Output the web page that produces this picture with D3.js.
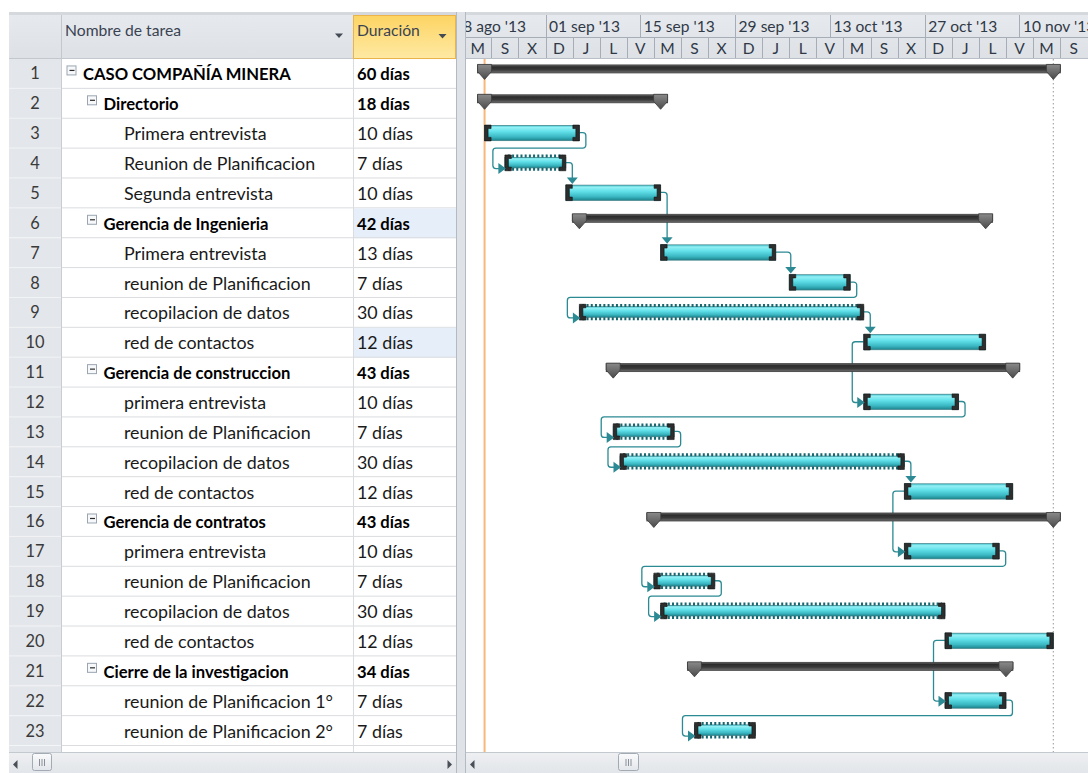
<!DOCTYPE html>
<html>
<head>
<meta charset="utf-8">
<script src="https://cdn.jsdelivr.net/npm/d3@7"></script>
<style>
  html, body { margin: 0; padding: 0; background: #ffffff; }
  svg { display: block; font-family: Lato, "Noto Sans", sans-serif; }
</style>
</head>
<body>
<svg id="chart" width="1088" height="773"></svg>
<script>
// ---- Datos del proyecto ----
const tareas = [
  "CASO COMPAÑÍA MINERA", "Directorio", "Primera entrevista", "Reunion de Planificacion",
  "Segunda entrevista", "Gerencia de Ingenieria", "Primera entrevista", "reunion de Planificacion",
  "recopilacion de datos", "red de contactos", "Gerencia de construccion", "primera entrevista",
  "reunion de Planificacion", "recopilacion de datos", "red de contactos", "Gerencia de contratos",
  "primera entrevista", "reunion de Planificacion", "recopilacion de datos", "red de contactos",
  "Cierre de la investigacion", "reunion de Planificacion 1°", "reunion de Planificacion 2°"
];
const duraciones = [60, 18, 10, 7, 10, 42, 13, 7, 30, 12, 43, 10, 7, 30, 12, 43, 10, 7, 30, 12, 34, 7, 7];
const niveles = [0, 1, 2, 2, 2, 1, 2, 2, 2, 2, 1, 2, 2, 2, 2, 1, 2, 2, 2, 2, 1, 2, 2];
const comienzos = [
  "2013-08-23", "2013-08-23", "2013-08-23", "2013-08-26", "2013-09-04", "2013-09-06",
  "2013-09-18", "2013-10-07", "2013-09-06", "2013-10-18", "2013-09-11", "2013-10-18",
  "2013-09-11", "2013-09-12", "2013-10-24", "2013-09-17", "2013-10-24", "2013-09-17",
  "2013-09-18", "2013-10-30", "2013-09-23", "2013-10-30", "2013-09-23"
];
const fines = [
  "2013-11-14", "2013-09-17", "2013-09-05", "2013-09-03", "2013-09-17", "2013-11-04",
  "2013-10-04", "2013-10-15", "2013-10-17", "2013-11-04", "2013-11-08", "2013-10-31",
  "2013-09-19", "2013-10-23", "2013-11-08", "2013-11-14", "2013-11-06", "2013-09-25",
  "2013-10-29", "2013-11-14", "2013-11-07", "2013-11-07", "2013-10-01"
];
// [predecesora, sucesora, tipo]  FC = fin-comienzo, CC = comienzo-comienzo
const vinculos = [
  [3, 4, "FC"], [4, 5, "FC"], [5, 7, "FC"], [7, 8, "FC"], [8, 9, "FC"], [9, 10, "FC"],
  [10, 12, "CC"], [12, 13, "FC"], [13, 14, "FC"], [14, 15, "FC"], [15, 17, "CC"],
  [17, 18, "FC"], [18, 19, "FC"], [20, 22, "CC"], [22, 23, "FC"]
];
const tareasPunteadas = [4, 9, 13, 14, 18, 19, 23];
const celdasSeleccionadas = [6, 10];
const fechaInicioProyecto = "2013-08-23";
const fechaFinProyecto = "2013-11-15";

// Escala temporal: nivel superior (semanas de 2) e inferior (cada 4 días)
const inicioNivelSuperior = "2013-08-18";
const etiquetasSuperiores = ["18 ago '13", "01 sep '13", "15 sep '13", "29 sep '13", "13 oct '13", "27 oct '13", "10 nov '13"];
const inicioNivelInferior = "2013-08-20";
const etiquetasInferiores = ["M", "S", "X", "D", "J", "L", "V", "M", "S", "X", "D", "J", "L", "V", "M", "S", "X", "D", "J", "L", "V", "M", "S"];

// ---- Dibujo ----
const svg = d3.select("#chart");
const W = 1088, H = 773;
const parse = d3.utcParse("%Y-%m-%d");
const dia = d3.utcDay;

// Geometría general de la vista
const yTop = 15, yTier = 37, yHead = 59, rowH = 29.87, yScroll = 752;
const colNum0 = 9, colNum1 = 61, colNom1 = 353, colDur1 = 456, ganttX0 = 466;

const x = d3.scaleUtc()
  .domain([parse("2013-08-20"), parse("2013-11-20")])
  .range([464.25, 1087.2]);
const fila = d3.scaleLinear().domain([0, 1]).range([yHead, yHead + rowH]);
const centro = i => fila(i + 0.5);

const defs = svg.append("defs");
function grad(id, stops) {
  const g = defs.append("linearGradient").attr("id", id).attr("x1", 0).attr("x2", 0).attr("y1", 0).attr("y2", 1);
  stops.forEach(([o, c]) => g.append("stop").attr("offset", o).attr("stop-color", c));
}
grad("gTarea", [[0, "#45c7d1"], [0.14, "#93eff4"], [0.4, "#62e1ea"], [0.75, "#3bb8c3"], [1, "#1c838c"]]);
grad("gResumen", [[0, "#6c6c6c"], [0.25, "#2c2c2c"], [0.6, "#3a3a3a"], [1, "#707070"]]);
grad("gTapa", [[0, "#8a8a8a"], [1, "#4a4a4a"]]);
grad("gCabecera", [[0, "#e6e9ed"], [1, "#dde1e6"]]);
grad("gDuracion", [[0, "#fdd463"], [1, "#fee9a3"]]);
grad("gBarra", [[0, "#eef0f2"], [1, "#e2e5e9"]]);
grad("gPulgar", [[0, "#fbfbfc"], [1, "#e3e6ea"]]);

defs.append("clipPath").attr("id", "clipGantt")
  .append("rect").attr("x", ganttX0).attr("y", yTop).attr("width", W - ganttX0).attr("height", yScroll - yTop);
defs.append("clipPath").attr("id", "clipTabla")
  .append("rect").attr("x", 0).attr("y", yHead).attr("width", colDur1).attr("height", yScroll - yHead);

// tamaños de letra ajustados al ancho de los textos de la vista
function ajustar(texto, ancho, peso) {
  const t = svg.append("text").attr("font-size", 100).attr("font-weight", peso).text(texto);
  const w = t.node().getComputedTextLength();
  t.remove();
  return 100 * ancho / w;
}
const fsNegrita = ajustar("CASO COMPAÑÍA MINERA", 208, 700);
const fsNormal = ajustar("reunion de Planificacion 2°", 209, 400);
const fsCabecera = ajustar("Nombre de tarea", 116, 400);
const fsEscala = ajustar("01 sep '13", 71, 400);

svg.append("rect").attr("width", W).attr("height", H).attr("fill", "#ffffff");
svg.append("rect").attr("x", colNum0).attr("y", 12).attr("width", W - colNum0).attr("height", 3).attr("fill", "#d5d8dd");

// ---- Tabla ----
const tabla = svg.append("g");
const cuerpoTabla = tabla.append("g").attr("clip-path", "url(#clipTabla)");
const nFilas = tareas.length + 1;
for (let i = 0; i < nFilas; i++) {
  const y0 = fila(i);
  cuerpoTabla.append("rect").attr("x", colNum0).attr("y", y0).attr("width", colNum1 - colNum0).attr("height", rowH).attr("fill", "#e3e6ea");
  if (celdasSeleccionadas.includes(i + 1)) {
    cuerpoTabla.append("rect").attr("x", colNom1).attr("y", y0).attr("width", colDur1 - colNom1).attr("height", rowH).attr("fill", "#e6eef9");
  }
  cuerpoTabla.append("line").attr("x1", colNum0).attr("x2", colNum1).attr("y1", y0 + rowH - 0.5).attr("y2", y0 + rowH - 0.5).attr("stroke", "#f4f5f7");
  cuerpoTabla.append("line").attr("x1", colNum1).attr("x2", colDur1).attr("y1", y0 + rowH - 0.5).attr("y2", y0 + rowH - 0.5).attr("stroke", "#dadcdf");
}
cuerpoTabla.append("line").attr("x1", colNum1 + 0.5).attr("x2", colNum1 + 0.5).attr("y1", yHead).attr("y2", yScroll).attr("stroke", "#c9cdd3");
cuerpoTabla.append("line").attr("x1", colNom1 + 0.5).attr("x2", colNom1 + 0.5).attr("y1", yHead).attr("y2", yScroll).attr("stroke", "#dadcdf");

tareas.forEach((nombre, i) => {
  const c = centro(i);
  const nivel = niveles[i];
  const resumen = nivel < 2;
  cuerpoTabla.append("text").attr("x", 35).attr("y", c + 5.5).attr("text-anchor", "middle")
    .attr("font-size", fsNormal * 0.92).attr("fill", "#3a3a3a").text(i + 1);
  const xt = 83 + nivel * 20.5;
  if (resumen) {
    const bx = xt - 16.5, by = c - 8.5;
    cuerpoTabla.append("rect").attr("x", bx + 0.5).attr("y", by + 0.5).attr("width", 9).attr("height", 9)
      .attr("fill", "#f7f8fa").attr("stroke", "#9aa5b1").attr("stroke-width", 1);
    cuerpoTabla.append("line").attr("x1", bx + 3).attr("x2", bx + 8).attr("y1", by + 5).attr("y2", by + 5)
      .attr("stroke", "#2c2c2c").attr("stroke-width", 1.2);
  }
  cuerpoTabla.append("text").attr("x", xt).attr("y", c + 6.5)
    .attr("font-size", resumen ? fsNegrita : fsNormal).attr("font-weight", resumen ? 700 : 400)
    .attr("fill", resumen ? "#000000" : "#1a1a1a").text(nombre);
  cuerpoTabla.append("text").attr("x", 357).attr("y", c + 6.5)
    .attr("font-size", resumen ? fsNegrita : fsNormal).attr("font-weight", resumen ? 700 : 400)
    .attr("fill", resumen ? "#000000" : "#1a1a1a").text(duraciones[i] + " días");
});

// Cabecera de la tabla
tabla.append("rect").attr("x", colNum0).attr("y", yTop).attr("width", colNom1 - colNum0).attr("height", yHead - yTop).attr("fill", "url(#gCabecera)");
tabla.append("rect").attr("x", colNom1 + 0.5).attr("y", yTop + 0.5).attr("width", colDur1 - colNom1 - 1).attr("height", yHead - yTop - 1)
  .attr("fill", "url(#gDuracion)").attr("stroke", "#eab44a");
tabla.append("line").attr("x1", colNum1 + 0.5).attr("x2", colNum1 + 0.5).attr("y1", yTop).attr("y2", yHead).attr("stroke", "#c3c8cf");
tabla.append("line").attr("x1", colNum0).attr("x2", colNom1).attr("y1", yHead - 0.5).attr("y2", yHead - 0.5).attr("stroke", "#c3c8cf");
tabla.append("text").attr("x", 65).attr("y", 36).attr("font-size", fsCabecera).attr("fill", "#3a4352").text("Nombre de tarea");
tabla.append("text").attr("x", 357).attr("y", 36).attr("font-size", fsCabecera).attr("fill", "#3a4352").text("Duración");
[[339, 35.5], [442.5, 36]].forEach(([ax, ay]) => {
  tabla.append("path").attr("d", `M${ax - 4},${ay - 2}L${ax + 4},${ay - 2}L${ax},${ay + 2.5}Z`).attr("fill", "#444b55");
});

// Separador entre tabla y diagrama
svg.append("rect").attr("x", colDur1).attr("y", yTop - 3).attr("width", ganttX0 - colDur1).attr("height", H - yTop + 3).attr("fill", "#dfe2e7");
svg.append("line").attr("x1", colDur1 + 0.5).attr("x2", colDur1 + 0.5).attr("y1", yTop - 3).attr("y2", H).attr("stroke", "#b4bac2");
svg.append("line").attr("x1", ganttX0 - 0.5).attr("x2", ganttX0 - 0.5).attr("y1", yTop - 3).attr("y2", H).attr("stroke", "#b4bac2");

// ---- Escala temporal ----
const escala = svg.append("g").attr("clip-path", "url(#clipGantt)");
escala.append("rect").attr("x", ganttX0).attr("y", yTop).attr("width", W - ganttX0).attr("height", yHead - yTop).attr("fill", "url(#gCabecera)");
const t0 = parse(inicioNivelSuperior);
etiquetasSuperiores.forEach((et, k) => {
  const xa = x(dia.offset(t0, 14 * k));
  escala.append("line").attr("x1", Math.round(xa) + 0.5).attr("x2", Math.round(xa) + 0.5).attr("y1", yTop).attr("y2", yTier).attr("stroke", "#a6adb6");
  escala.append("text").attr("x", xa + 3.5).attr("y", 32).attr("font-size", fsEscala).attr("fill", "#303947").text(et);
});
const b0 = parse(inicioNivelInferior);
etiquetasInferiores.forEach((et, k) => {
  const xa = x(dia.offset(b0, 4 * k));
  const xb = x(dia.offset(b0, 4 * (k + 1)));
  escala.append("line").attr("x1", Math.round(xa) + 0.5).attr("x2", Math.round(xa) + 0.5).attr("y1", yTier).attr("y2", yHead).attr("stroke", "#a6adb6");
  escala.append("text").attr("x", (xa + xb) / 2).attr("y", 54).attr("text-anchor", "middle").attr("font-size", fsEscala).attr("fill", "#303947").text(et);
});
escala.append("line").attr("x1", ganttX0).attr("x2", W).attr("y1", yTier + 0.5).attr("y2", yTier + 0.5).attr("stroke", "#a6adb6");
escala.append("line").attr("x1", ganttX0).attr("x2", W).attr("y1", yHead - 0.5).attr("y2", yHead - 0.5).attr("stroke", "#b9bfc7");

// ---- Diagrama de Gantt ----
const gantt = svg.append("g").attr("clip-path", "url(#clipGantt)");
const xIni = i => x(parse(comienzos[i]));
const xFin = i => x(dia.offset(parse(fines[i]), 1));

// líneas de inicio y fin del proyecto
gantt.append("line").attr("x1", x(parse(fechaInicioProyecto))).attr("x2", x(parse(fechaInicioProyecto)))
  .attr("y1", yHead).attr("y2", yScroll).attr("stroke", "#f8b77c").attr("stroke-width", 2);
gantt.append("line").attr("x1", x(parse(fechaFinProyecto))).attr("x2", x(parse(fechaFinProyecto)))
  .attr("y1", yHead).attr("y2", yScroll).attr("stroke", "#a9a9a9").attr("stroke-width", 1.2).attr("stroke-dasharray", "1.5,2.5");

// vínculos
const colorVinculo = "#2b8a93";
function ruta(pts, r) {
  const p = d3.path();
  p.moveTo(pts[0][0], pts[0][1]);
  for (let k = 1; k < pts.length - 1; k++) p.arcTo(pts[k][0], pts[k][1], pts[k + 1][0], pts[k + 1][1], r);
  p.lineTo(pts[pts.length - 1][0], pts[pts.length - 1][1]);
  return p.toString();
}
const capaLineas = gantt.append("g");
const puntas = [];
vinculos.forEach(([a, b, tipo]) => {
  const i = a - 1, j = b - 1;
  const cp = centro(i), cs = centro(j);
  let pts;
  if (tipo === "CC") {
    const vx = Math.min(xIni(i), xIni(j)) - 11.5;
    pts = [[xIni(i), cp - 1], [vx, cp - 1], [vx, cs], [xIni(j) - 6, cs]];
    puntas.push({ tipo: "der", x: xIni(j) + 1, y: cs });
  } else if (xIni(j) + 1 >= xFin(i)) {
    const vx = Math.max(xFin(i) + 6.5, xIni(j) + 1.5);
    pts = [[xFin(i), cp - 1], [vx, cp - 1], [vx, cs - 14]];
    puntas.push({ tipo: "abajo", x: vx, y: cs - 9.5 });
  } else {
    const vx = xFin(i) + 6.5;
    const yb = fila(i + 1) - 0.5;
    const hx = xIni(j) - 12;
    pts = [[xFin(i), cp - 1], [vx, cp - 1], [vx, yb], [hx, yb], [hx, cs + 5], [xIni(j) - 6, cs + 5]];
    puntas.push({ tipo: "der", x: xIni(j) + 1, y: cs + 5 });
  }
  capaLineas.append("path").attr("d", ruta(pts, 3)).attr("fill", "none")
    .attr("stroke", colorVinculo).attr("stroke-width", 1.3);
});

// barras
const capaBarras = gantt.append("g");
tareas.forEach((nombre, i) => {
  const c = centro(i);
  const x0 = xIni(i), x1 = xFin(i);
  if (niveles[i] < 2) {
    capaBarras.append("rect").attr("x", x0 - 7).attr("y", c - 9).attr("width", x1 - x0 + 14).attr("height", 8)
      .attr("fill", "url(#gResumen)").attr("stroke", "#3b3b3b").attr("stroke-width", 0.8);
    [x0, x1].forEach(xc => {
      capaBarras.append("path")
        .attr("d", `M${xc - 7},${c - 9.5}L${xc + 7},${c - 9.5}L${xc + 7},${c - 2.5}L${xc},${c + 5.5}L${xc - 7},${c - 2.5}Z`)
        .attr("fill", "url(#gTapa)").attr("stroke", "#3a3a3a").attr("stroke-width", 0.8);
    });
  } else {
    const punteada = tareasPunteadas.includes(i + 1);
    const top = punteada ? c - 6.2 : c - 8.3;
    const bot = punteada ? c + 4.4 : c + 7;
    capaBarras.append("rect").attr("x", x0).attr("y", top).attr("width", x1 - x0).attr("height", bot - top)
      .attr("fill", "url(#gTarea)").attr("stroke", "#3f7f86").attr("stroke-width", 0.7);
    if (punteada) {
      [c - 7.5, c + 5.8].forEach(yy => {
        capaBarras.append("line").attr("x1", x0 + 3).attr("x2", x1 - 3).attr("y1", yy).attr("y2", yy)
          .attr("stroke", "#16666f").attr("stroke-width", 3).attr("stroke-dasharray", "2,2.2");
      });
    }
    const ct = c - 8.6, cb = c + 7.2;
    // remates en forma de corchete
    capaBarras.append("path")
      .attr("d", `M${x0},${ct}H${x0 + 6.5}V${ct + 3.5}H${x0 + 3.5}V${cb - 3.5}H${x0 + 6.5}V${cb}H${x0}Z`)
      .attr("fill", "#2e2e2e").attr("stroke", "#111").attr("stroke-width", 0.6);
    capaBarras.append("path")
      .attr("d", `M${x1},${ct}H${x1 - 6.5}V${ct + 3.5}H${x1 - 3.5}V${cb - 3.5}H${x1 - 6.5}V${cb}H${x1}Z`)
      .attr("fill", "#2e2e2e").attr("stroke", "#111").attr("stroke-width", 0.6);
  }
});

// puntas de flecha
puntas.forEach(p => {
  const d = p.tipo === "abajo"
    ? `M${p.x - 5.5},${p.y - 6.5}L${p.x + 5.5},${p.y - 6.5}L${p.x},${p.y}Z`
    : `M${p.x - 7.5},${p.y - 5.5}L${p.x},${p.y}L${p.x - 7.5},${p.y + 5.5}Z`;
  gantt.append("path").attr("d", d).attr("fill", colorVinculo);
});

// ---- Barras de desplazamiento ----
const barras = svg.append("g");
function barraDesplazamiento(xa, xb, pulgar, conDerecha) {
  barras.append("rect").attr("x", xa).attr("y", yScroll).attr("width", xb - xa).attr("height", H - yScroll).attr("fill", "url(#gBarra)");
  barras.append("line").attr("x1", xa).attr("x2", xb).attr("y1", yScroll + 0.5).attr("y2", yScroll + 0.5).attr("stroke", "#c4c9d0");
  const cy = 764.5;
  barras.append("path").attr("d", `M${xa + 4},${cy}L${xa + 8.5},${cy - 4.5}L${xa + 8.5},${cy + 4.5}Z`).attr("fill", "#4a4f57");
  if (conDerecha) {
    barras.append("path").attr("d", `M${xb - 4},${cy}L${xb - 8.5},${cy - 4.5}L${xb - 8.5},${cy + 4.5}Z`).attr("fill", "#4a4f57");
  }
  barras.append("rect").attr("x", pulgar[0] + 0.5).attr("y", 753.5).attr("width", pulgar[1] - pulgar[0]).attr("height", 17)
    .attr("rx", 2).attr("fill", "url(#gPulgar)").attr("stroke", "#a2aab4");
  const m = (pulgar[0] + pulgar[1]) / 2;
  [-2.5, 0, 2.5].forEach(d => {
    barras.append("line").attr("x1", m + d + 0.5).attr("x2", m + d + 0.5).attr("y1", 759).attr("y2", 766).attr("stroke", "#8a9099");
  });
}
barraDesplazamiento(colNum0, colDur1, [32, 51], true);
barraDesplazamiento(ganttX0, W, [618, 638], false);
</script>
</body>
</html>
